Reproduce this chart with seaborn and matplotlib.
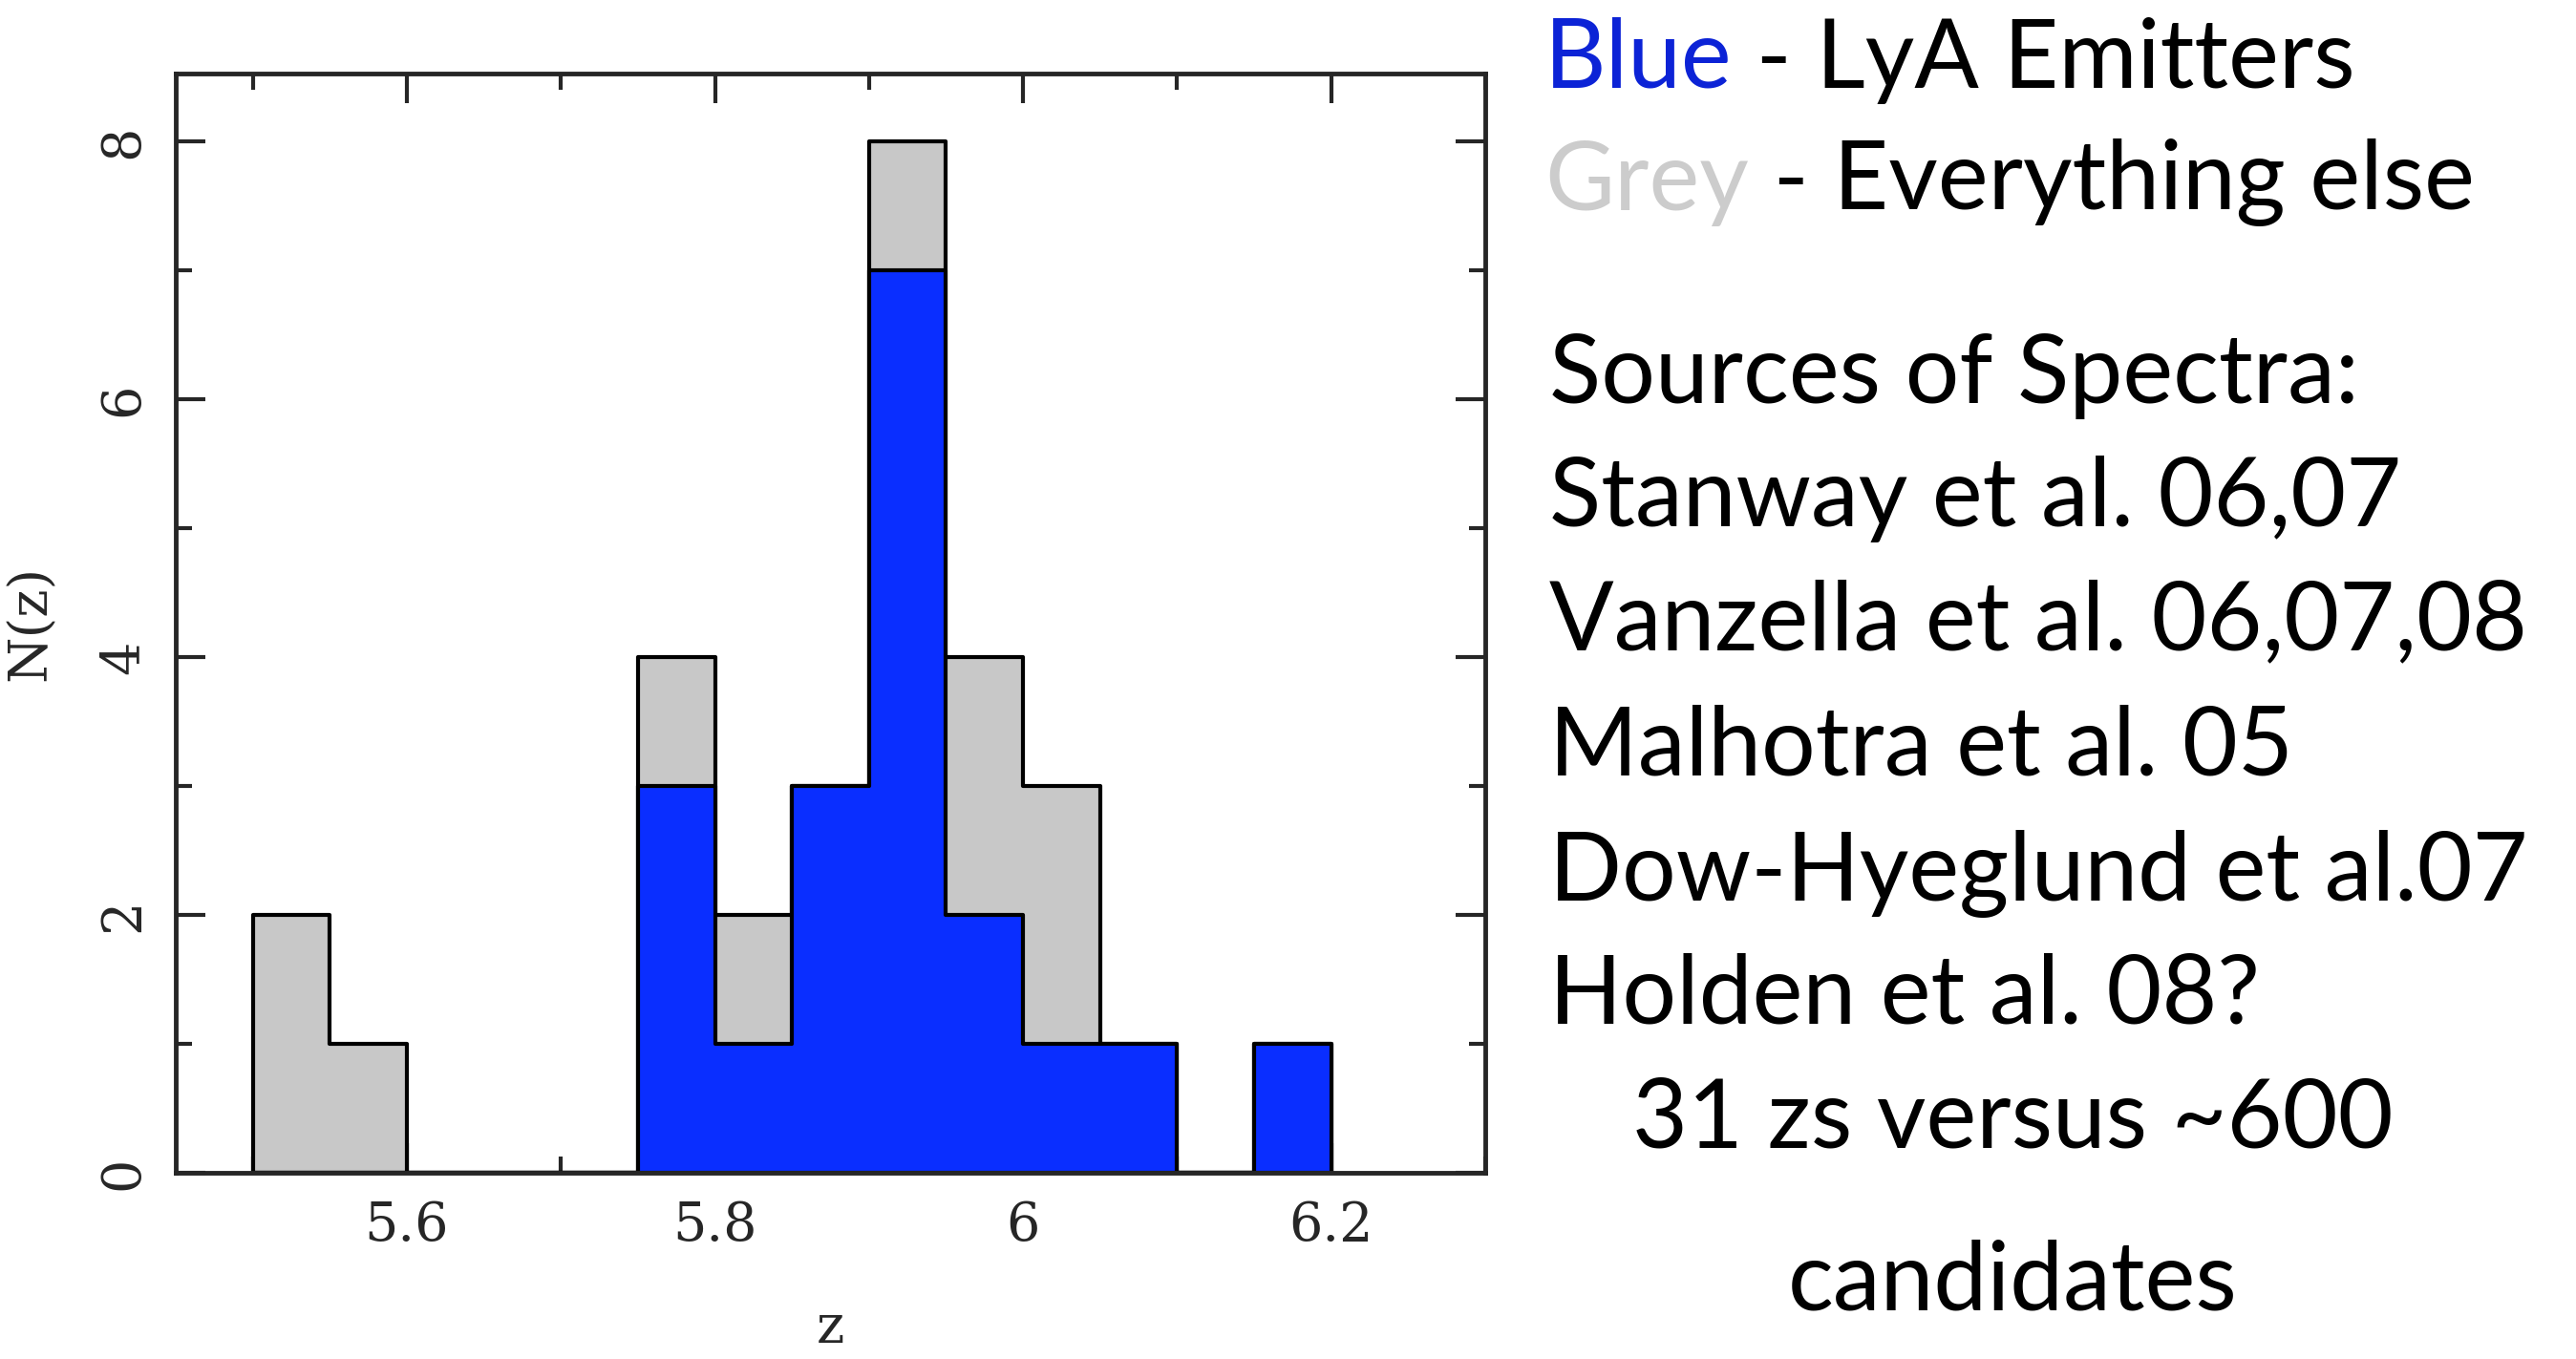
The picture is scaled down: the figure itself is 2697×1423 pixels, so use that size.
import numpy as np
import pandas as pd
import matplotlib
matplotlib.use("Agg")
import matplotlib.pyplot as plt
import seaborn as sns
from matplotlib.ticker import MultipleLocator

# redshift bins (width 0.05) and counts
bin_edges = [5.50, 5.55, 5.60, 5.65, 5.70, 5.75, 5.80, 5.85, 5.90, 5.95,
             6.00, 6.05, 6.10, 6.15, 6.20]
n_all = [2, 1, 0, 0, 0, 4, 2, 3, 8, 4, 3, 1, 0, 1]
n_lya = [0, 0, 0, 0, 0, 3, 1, 3, 7, 2, 1, 1, 0, 1]

legend_lines = ["Sources of Spectra:",
                "Stanway et al. 06,07",
                "Vanzella et al. 06,07,08",
                "Malhotra et al. 05",
                "Dow-Hyeglund et al.07",
                "Holden et al. 08?"]
summary = ["31 zs versus ~600", "candidates"]

edges = np.array(bin_edges)
centers = (edges[:-1] + edges[1:]) / 2
df = pd.DataFrame({"z": centers, "all": n_all, "lya": n_lya})

sns.set_theme(style="ticks")
plt.rcParams['font.family'] = ['DejaVu Serif']

fig = plt.figure(figsize=(26.97, 14.23), dpi=100)
ax = fig.add_axes([0.0682, 0.137, 0.5084, 0.809])

lw = 3.0
sns.histplot(data=df, x="z", weights="all", bins=list(bin_edges), element="step",
             fill=True, color="#c8c8c8", alpha=1, edgecolor="black",
             linewidth=lw, ax=ax)
sns.histplot(data=df, x="z", weights="lya", bins=list(bin_edges), element="step",
             fill=True, color="#0a2eff", alpha=1, edgecolor="black",
             linewidth=lw, ax=ax)

ax.set_xlim(5.45, 6.30)
ax.set_ylim(0, 8.53)
ax.xaxis.set_major_locator(MultipleLocator(0.2))
ax.xaxis.set_minor_locator(MultipleLocator(0.1))
ax.yaxis.set_major_locator(MultipleLocator(2))
ax.yaxis.set_minor_locator(MultipleLocator(1))
ax.set_xticks([5.6, 5.8, 6.0, 6.2])
ax.set_xticklabels(["5.6", "5.8", "6", "6.2"])
ax.tick_params(which="both", direction="in", top=True, right=True,
               width=lw, labelsize=40, pad=20)
ax.tick_params(which="major", length=22)
ax.tick_params(which="minor", length=12)
for lab in ax.get_yticklabels():
    lab.set_rotation(90)
    lab.set_va("center")
for s in ax.spines.values():
    s.set_linewidth(3.5)

ax.set_xlabel("z", fontsize=40, labelpad=38)
ax.set_ylabel("N(z)", fontsize=40, labelpad=30)

# text panel on the right
tf = ["Lato", "DejaVu Sans"]
fs = 72
x0 = 0.5995
t_blue = fig.text(x0, 1 - 92 / 1423, "Blue", color="#0c23d6", fontsize=fs,
                  family=tf, va="baseline")
t_grey = fig.text(x0, 1 - 220 / 1423, "Grey", color="#cccccc", fontsize=fs,
                  family=tf, va="baseline")
ax.annotate(" - LyA Emitters", xy=(1, 0), xycoords=t_blue, va="bottom",
            ha="left", color="black", fontsize=fs, family=tf,
            annotation_clip=False)
ax.annotate(" - Everything else", xy=(1, 0), xycoords=t_grey, va="bottom",
            ha="left", color="black", fontsize=fs, family=tf,
            annotation_clip=False)

y_base = [422, 551, 680, 812, 943, 1071]
for txt, yb in zip(legend_lines, y_base):
    fig.text(x0 + 0.002, 1 - yb / 1423, txt, color="black", fontsize=fs,
             family=tf, va="baseline")
for txt, yb in zip(summary, [1201, 1372]):
    fig.text(2107 / 2697, 1 - yb / 1423, txt, color="black", fontsize=fs,
             family=tf, va="baseline", ha="center")

fig.savefig("out.png", dpi=100, facecolor="white")
